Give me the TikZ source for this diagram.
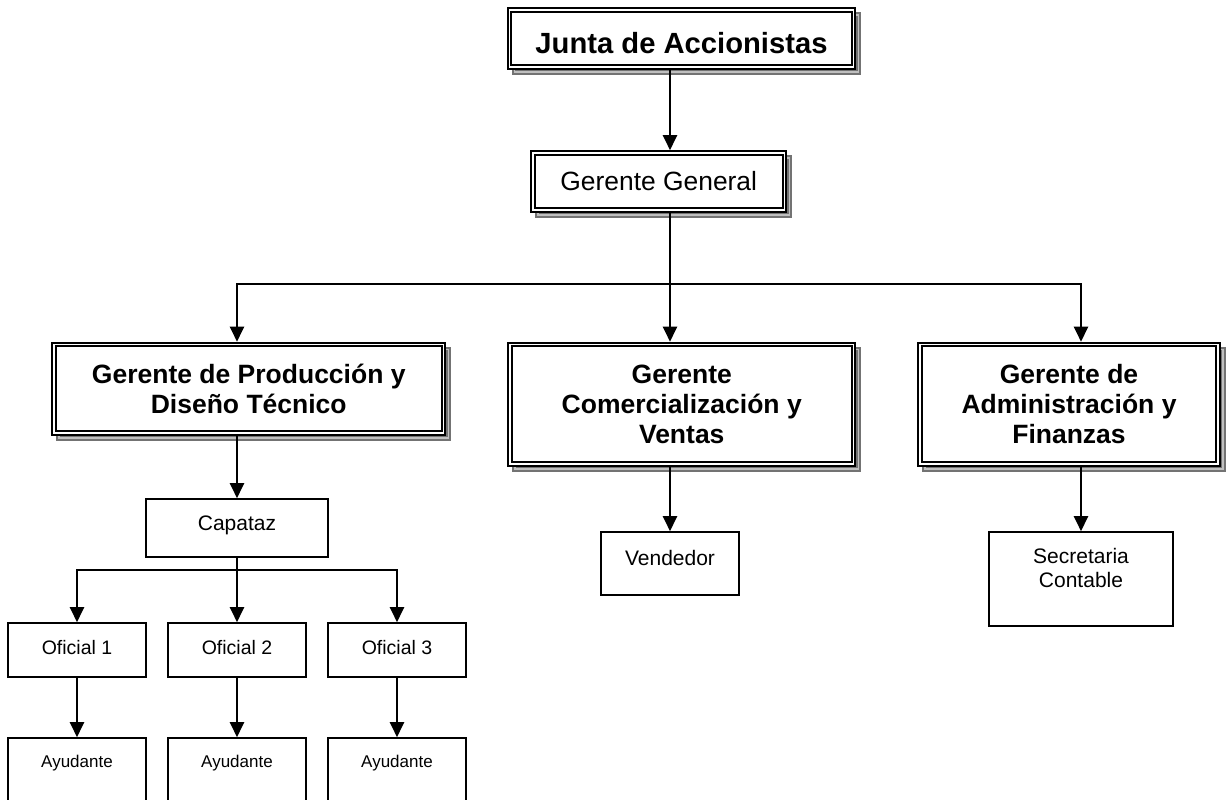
\documentclass[tikz,border=0pt]{standalone}
\usepackage{fontspec}
\setmainfont{Liberation Sans}
\usetikzlibrary{positioning,arrows.meta,shadows}

\begin{document}
\begin{tikzpicture}[x=0.5pt,y=-0.5pt,
	jefe/.style={draw,double,line width=1pt,double distance=0.75pt,fill=white,
		inner sep=0pt,outer sep=1.4pt,align=center,
		general shadow={shadow xshift=2.5pt,shadow yshift=-2.5pt,
			draw=black!55,double=black!25,line width=1pt,double distance=0.75pt}},
	gerente/.style={font=\bfseries\fontsize{13.25pt}{15pt}\selectfont},
	caja/.style={draw,line width=0.8pt,fill=white,inner sep=0pt,
		font=\fontsize{10.5pt}{12pt}\selectfont},
	oficial/.style={minimum width=69pt,text height=15.5pt,text depth=11.5pt,
		font=\fontsize{9.75pt}{11pt}\selectfont},
	ayudante/.style={minimum width=69pt,text height=14.5pt,text depth=22pt,
		font=\fontsize{8.5pt}{10pt}\selectfont},
	flecha/.style={line width=1.1pt,-{Triangle[width=7pt,length=7.5pt]}},
	linea/.style={line width=1.1pt}]
	\useasboundingbox (0,0) rectangle (1226,799);
	\clip (0,0) rectangle (1226,799);

	\node[jefe,minimum width=172pt,text height=21.5pt,text depth=7pt,
		font=\bfseries\fontsize{14.6pt}{17pt}\selectfont] (junta) at (681.5,38.5) {Junta de Accionistas};
	\node[jefe,minimum width=125.75pt,minimum height=28.5pt,
		font=\fontsize{13.2pt}{15pt}\selectfont] (gg) at (658.75,181.5) {Gerente General};
	\node[jefe,gerente,minimum width=194.75pt,minimum height=44.25pt] (prod) at (248.75,388.75) {Gerente de Producción y\\Diseño Técnico};
	\node[jefe,gerente,minimum width=171.75pt,minimum height=59.75pt] (com) at (681.75,404.25) {Gerente\\Comercialización y\\Ventas};
	\node[jefe,gerente,minimum width=149pt,minimum height=59.75pt] (adm) at (1069,404.25) {Gerente de\\Administración y\\Finanzas};

	\node[caja,minimum width=91pt,text height=15.75pt,text depth=13.25pt] (capataz) at (237,528) {Capataz};
	\node[caja,minimum width=69pt,text height=16.75pt,text depth=14.75pt] (vend) at (670,563.5) {Vendedor};
	\node[caja,minimum width=92pt,text height=15.75pt,text depth=31.25pt] (secre) at (1081,579)
		{\begin{tabular}[t]{@{}c@{}}Secretaria\\Contable\end{tabular}};

	\node[caja,oficial] (of2) [below=32.2pt of capataz] {Oficial 2};
	\node[caja,oficial] (of1) [left=10.2pt of of2] {Oficial 1};
	\node[caja,oficial] (of3) [right=10.2pt of of2] {Oficial 3};
	\foreach \i in {1,2,3}
		\node[caja,ayudante] (ay\i) [below=29.7pt of of\i] {Ayudante};

	\coordinate (eje) at (670,284);
	\coordinate (bifur) at (237,570);
	\draw[flecha] (junta.south -| eje) -- (gg.north -| eje);
	\draw[linea] (gg.south -| eje) -- (eje);
	\draw[flecha] (eje) -| (prod.north -| capataz);
	\draw[flecha] (eje) -- (com.north -| eje);
	\draw[flecha] (eje) -| (adm.north -| secre);
	\draw[flecha] (prod.south -| capataz) -- (capataz);
	\draw[flecha] (com.south -| vend) -- (vend);
	\draw[flecha] (adm.south -| secre) -- (secre);
	\draw[linea] (capataz) -- (bifur);
	\foreach \i in {1,2,3}
		\draw[flecha] (bifur) -| (of\i);
	\path[flecha] (of1) edge (ay1) (of2) edge (ay2) (of3) edge (ay3);
\end{tikzpicture}
\end{document}
